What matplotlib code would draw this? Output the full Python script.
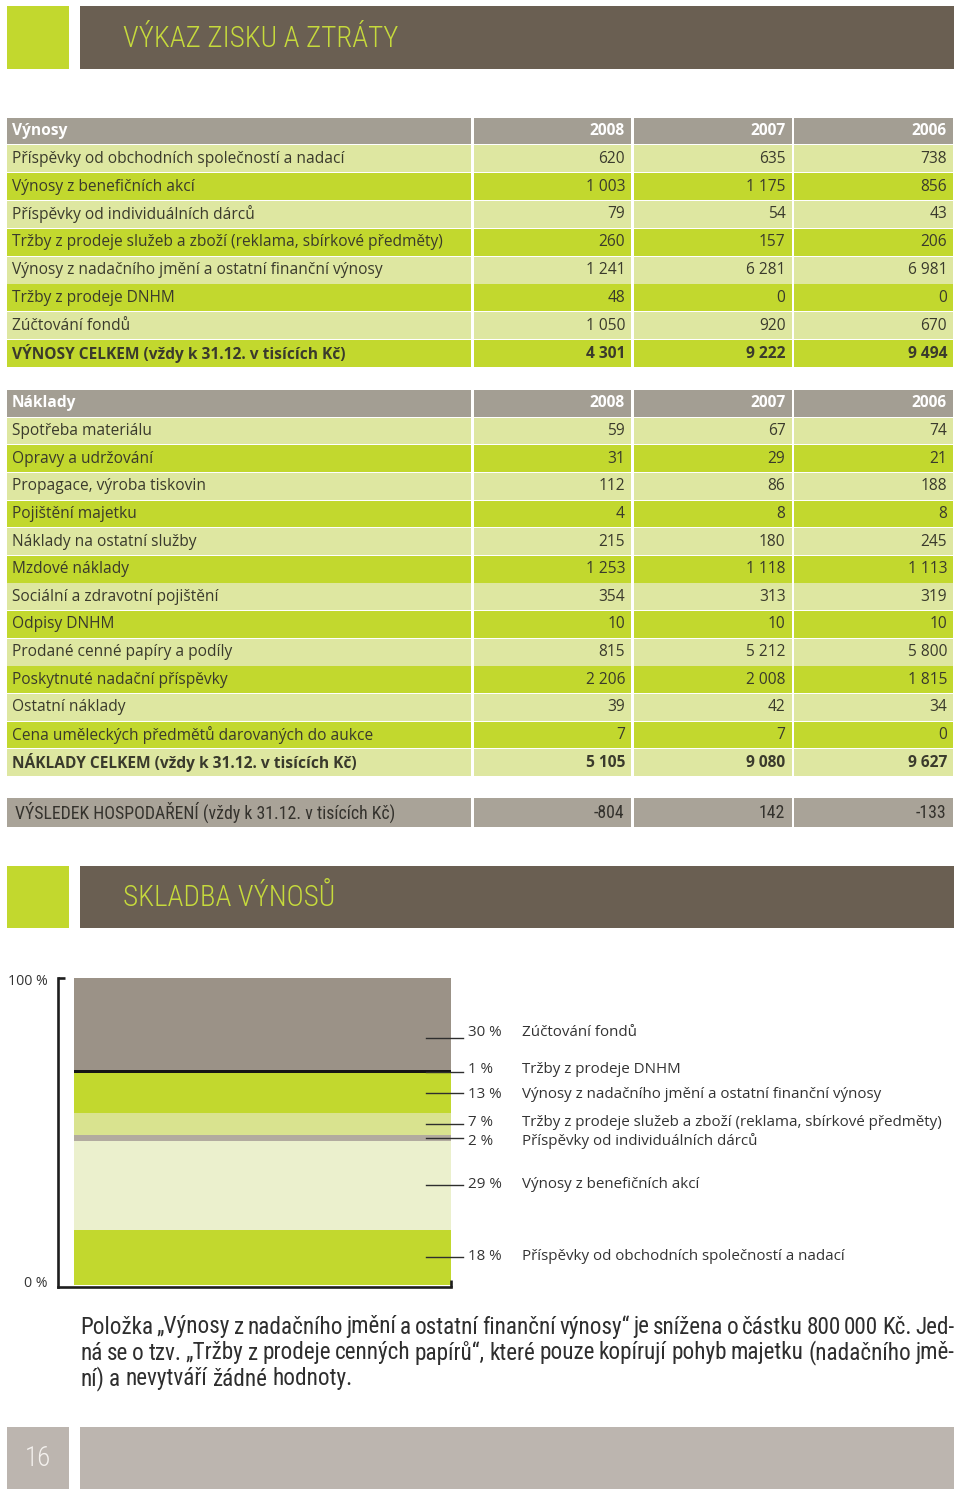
import matplotlib
matplotlib.use("Agg")
import matplotlib.pyplot as plt
from matplotlib.patches import Rectangle

# ---------------- data ----------------
years = ["2008", "2007", "2006"]

vynosy_labels = [
    "Příspěvky od obchodních společností a nadací",
    "Výnosy z benefičních akcí",
    "Příspěvky od individuálních dárců",
    "Tržby z prodeje služeb a zboží (reklama, sbírkové předměty)",
    "Výnosy z nadačního jmění a ostatní finanční výnosy",
    "Tržby z prodeje DNHM",
    "Zúčtování fondů",
]
vynosy_2008 = [620, 1003, 79, 260, 1241, 48, 1050]
vynosy_2007 = [635, 1175, 54, 157, 6281, 0, 920]
vynosy_2006 = [738, 856, 43, 206, 6981, 0, 670]
vynosy_total_label = "VÝNOSY CELKEM (vždy k 31.12. v tisících Kč)"
vynosy_total = [4301, 9222, 9494]

naklady_labels = [
    "Spotřeba materiálu",
    "Opravy a udržování",
    "Propagace, výroba tiskovin",
    "Pojištění majetku",
    "Náklady na ostatní služby",
    "Mzdové náklady",
    "Sociální a zdravotní pojištění",
    "Odpisy DNHM",
    "Prodané cenné papíry a podíly",
    "Poskytnuté nadační příspěvky",
    "Ostatní náklady",
    "Cena uměleckých předmětů darovaných do aukce",
]
naklady_2008 = [59, 31, 112, 4, 215, 1253, 354, 10, 815, 2206, 39, 7]
naklady_2007 = [67, 29, 86, 8, 180, 1118, 313, 10, 5212, 2008, 42, 7]
naklady_2006 = [74, 21, 188, 8, 245, 1113, 319, 10, 5800, 1815, 34, 0]
naklady_total_label = "NÁKLADY CELKEM (vždy k 31.12. v tisících Kč)"
naklady_total = [5105, 9080, 9627]

vysledek_label = "VÝSLEDEK HOSPODAŘENÍ (vždy k 31.12. v tisících Kč)"
vysledek = [-804, 142, -133]

# revenue composition (bottom -> top)
skladba_names = [
    "Příspěvky od obchodních společností a nadací",
    "Výnosy z benefičních akcí",
    "Příspěvky od individuálních dárců",
    "Tržby z prodeje služeb a zboží (reklama, sbírkové předměty)",
    "Výnosy z nadačního jmění a ostatní finanční výnosy",
    "Tržby z prodeje DNHM",
    "Zúčtování fondů",
]
skladba_pct = [18, 29, 2, 7, 13, 1, 30]

footnote_lines = [
    "Položka „Výnosy z nadačního jmění a ostatní finanční výnosy“ je snížena o částku 800 000 Kč. Jed-",
    "ná se o tzv. „Tržby z prodeje cenných papírů“, které pouze kopírují pohyb majetku (nadačního jmě-",
    "ní) a nevytváří žádné hodnoty.",
]
page_number = "16"
title1 = "VÝKAZ ZISKU A ZTRÁTY"
title2 = "SKLADBA VÝNOSŮ"

# ---------------- style ----------------
GREEN = "#c2d82e"
LIGHT = "#dee7a1"
PALE = "#ebf0cd"
HEAD_GRAY = "#a39e93"
BROWN = "#6a5f52"
TITLE_GREEN = "#c6da3c"
FOOT_GRAY = "#bcb5af"
TXT = "#3a3a2c"
SEG_COLORS = [GREEN, PALE, "#b2ab9f", "#d9e38f", GREEN, "#151515", "#9b9287"]

FONT = ["Open Sans", "DejaVu Sans"]
NARROW = ["Roboto Condensed", "Liberation Sans Narrow",
          "Open Sans Condensed Light", "Open Sans", "DejaVu Sans"]
plt.rcParams["font.family"] = FONT

W, H = 960, 1494
fig = plt.figure(figsize=(W / 100, H / 100), dpi=100)
page = fig.add_axes([0, 0, 1, 1])
page.set_xlim(0, W)
page.set_ylim(H, 0)
page.axis("off")
renderer = fig.canvas.get_renderer()


def rect(x0, y0, x1, y1, color):
    page.add_patch(Rectangle((x0, y0), x1 - x0, y1 - y0, facecolor=color,
                             edgecolor="none", linewidth=0))


def fmt(v):
    return f"{v:,}".replace(",", " ")


def fit_size(s, width, size0=12, **kw):
    t = page.text(0, 0, s, fontsize=size0, **kw)
    w = t.get_window_extent(renderer).width
    t.remove()
    return size0 * width / w


NKW = dict(family=NARROW, fontstretch="condensed", fontweight="light")
RKW = dict(family=NARROW, fontstretch="condensed", fontweight="normal")

# ---------------- header 1 ----------------
rect(7, 6, 69, 69, GREEN)
rect(80, 6, 954, 69, BROWN)
ts = fit_size(title1, 274, **NKW)
page.text(123, 39, title1, color=TITLE_GREEN, fontsize=ts, va="center",
          ha="left", **NKW)

# columns
COLS = [(7, 471), (473.5, 631), (634, 791.5), (794, 953)]
LABEL_X = 12
NUM_PAD = 6
TFS = 11.2


def table(top, pitch, header_label, labels, cols_vals, total_label, totals,
          total_color):
    gap = 0.9
    y0 = top
    for (a, b) in COLS:
        rect(a, y0, b, y0 + pitch - gap, HEAD_GRAY)
    yc = y0 + (pitch - gap) / 2
    page.text(LABEL_X, yc, header_label, color="white", fontweight="bold",
              fontsize=TFS, va="center", ha="left")
    for j, (a, b) in enumerate(COLS[1:]):
        page.text(b - NUM_PAD, yc, years[j], color="white", fontweight="bold",
                  fontsize=TFS, va="center", ha="right")
    rows = [(lab, [cv[i] for cv in cols_vals], False) for i, lab in enumerate(labels)]
    rows.append((total_label, totals, True))
    for i, (lab, vals, bold) in enumerate(rows):
        y0 = top + (i + 1) * pitch
        color = LIGHT if i % 2 == 0 else GREEN
        if bold:
            color = total_color
        for (a, b) in COLS:
            rect(a, y0, b, y0 + pitch - gap, color)
        yc = y0 + (pitch - gap) / 2
        fw = "bold" if bold else "normal"
        page.text(LABEL_X, yc, lab, color=TXT, fontweight=fw, fontsize=TFS,
                  va="center", ha="left")
        for j, (a, b) in enumerate(COLS[1:]):
            page.text(b - NUM_PAD, yc, fmt(vals[j]), color=TXT, fontweight=fw,
                      fontsize=TFS, va="center", ha="right")


table(117.5, 27.83, "Výnosy", vynosy_labels,
      [vynosy_2008, vynosy_2007, vynosy_2006], vynosy_total_label, vynosy_total,
      GREEN)
table(390, 27.64, "Náklady", naklady_labels,
      [naklady_2008, naklady_2007, naklady_2006], naklady_total_label,
      naklady_total, LIGHT)

# result row
for (a, b) in COLS:
    rect(a, 798, b, 826.5, "#a9a398")
rs = fit_size(vysledek_label, 377, **RKW)
page.text(15, 812.5, vysledek_label, color="#34322d", fontsize=rs,
          va="center", ha="left", **RKW)
for j, (a, b) in enumerate(COLS[1:]):
    page.text(b - NUM_PAD - 1, 812.5, str(vysledek[j]), color="#34322d",
              fontsize=rs, va="center", ha="right", **RKW)

# ---------------- header 2 ----------------
rect(7, 866, 69, 928, GREEN)
rect(80, 866, 954, 928, BROWN)
page.text(123, 898, title2, color=TITLE_GREEN, fontsize=ts, va="center",
          ha="left", **NKW)

# ---------------- stacked bar chart ----------------
ax_l, ax_r, ax_t, ax_b = 57.5, 451, 978, 1287
cax = fig.add_axes([ax_l / W, 1 - ax_b / H, (ax_r - ax_l) / W, (ax_b - ax_t) / H])
px_per_unit = (1285 - 978) / 100.0
cax.set_ylim(-(ax_b - 1285) / px_per_unit, 100)
cax.set_xlim(0, ax_r - ax_l)
cax.set_facecolor("none")
bottom = 0
mids = []
for v, c in zip(skladba_pct, SEG_COLORS):
    cax.bar([74 - ax_l], [v], bottom=bottom, width=ax_r - 74, align="edge",
            color=c, linewidth=0)
    mids.append(bottom + v / 2)
    bottom += v

for s in ["top", "right"]:
    cax.spines[s].set_visible(False)
for s in ["left", "bottom"]:
    cax.spines[s].set_linewidth(1.9)
    cax.spines[s].set_color("#1e1e1e")
cax.set_xticks([])
cax.set_yticks([])
y_lo = cax.get_ylim()[0]
cax.plot([0, 7], [100, 100], color="#1e1e1e", lw=1.9, clip_on=False,
         solid_capstyle="butt")
cax.plot([ax_r - ax_l - 0.5, ax_r - ax_l - 0.5], [y_lo, y_lo + 2.3], color="#1e1e1e",
         lw=1.9, clip_on=False, solid_capstyle="butt")
cax.text(48 - ax_l, 99, "100 %", ha="right", va="center", fontsize=10.2,
         color="#333333")
cax.text(48 - ax_l, 0.6, "0 %", ha="right", va="center", fontsize=10.2,
         color="#333333")

leader_shift = [0, 0, 0, 0, 0, 0, -4.5]
label_shift = [0.3, 0.1, -1.2, 0.5, -0.6, 0.6, 1.6]
for name, v, m, ls, tsh in zip(skladba_names, skladba_pct, mids, leader_shift,
                               label_shift):
    ly = m + ls
    cax.plot([426 - ax_l, 463 - ax_l], [ly, ly], color="#2e2e2e", lw=1.0,
             clip_on=False)
    cax.text(468 - ax_l, ly + tsh, f"{v} %", ha="left", va="center",
             fontsize=10.9, color="#333333", clip_on=False)
    cax.text(522 - ax_l, ly + tsh, name, ha="left", va="center",
             fontsize=10.9, color="#333333", clip_on=False)

# ---------------- footnote (justified) ----------------
fs = fit_size(footnote_lines[2], 273, **RKW)


def put_line(text, x0, x1, y, justify, **kw):
    words = text.split(" ")
    objs = [page.text(0, y, w, ha="left", va="center", **kw) for w in words]
    widths = [o.get_window_extent(renderer).width for o in objs]
    if justify and len(words) > 1:
        gap = (x1 - x0 - sum(widths)) / (len(words) - 1)
    else:
        sp = page.text(0, y, "a a", **kw)
        sa = page.text(0, y, "aa", **kw)
        gap = sp.get_window_extent(renderer).width - sa.get_window_extent(renderer).width
        sp.remove()
        sa.remove()
    x = x0
    for o, w in zip(objs, widths):
        o.set_x(x)
        x += w + gap


foot_y = [1327, 1353, 1379]
for i, line in enumerate(footnote_lines):
    put_line(line, 80, 954, foot_y[i], i < 2, fontsize=fs, color="#2e2e2e",
             **RKW)

# ---------------- footer ----------------
rect(7, 1427, 69, 1489, FOOT_GRAY)
rect(80, 1427, 954, 1489, FOOT_GRAY)
ps = fit_size(page_number, 26, **NKW)
page.text(38, 1458, page_number, color="#f4f1ee", fontsize=ps, ha="center",
          va="center", **NKW)

fig.savefig("out.png", dpi=100)
